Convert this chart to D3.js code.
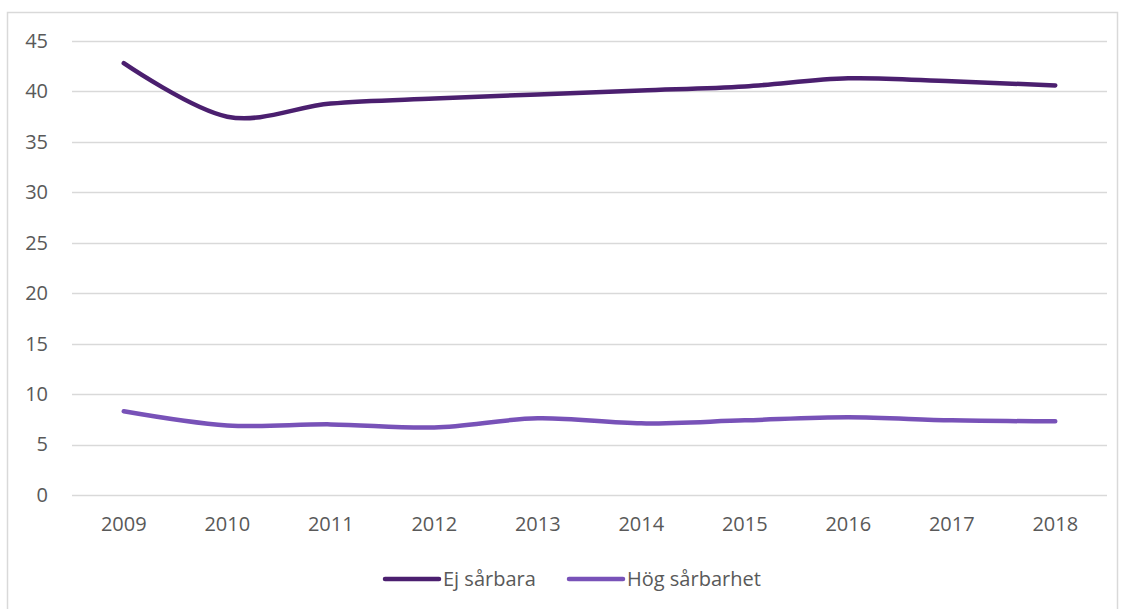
<!DOCTYPE html>
<html>
<head>
<meta charset="utf-8">
<script src="https://cdn.jsdelivr.net/npm/d3@7"></script>
<style>
  body { margin: 0; background: #fff; }
  text { font-family: "Open Sans", "Liberation Sans", sans-serif; fill: #595959; }
</style>
</head>
<body>
<div class="chart"></div>
<script>
var years = ["2009", "2010", "2011", "2012", "2013", "2014", "2015", "2016", "2017", "2018"];
var ejSarbara = [42.8, 37.5, 38.8, 39.3, 39.7, 40.1, 40.5, 41.3, 41.0, 40.6];
var hogSarbarhet = [8.3, 6.9, 7.0, 6.7, 7.6, 7.1, 7.4, 7.7, 7.4, 7.3];
var yTicks = [0, 5, 10, 15, 20, 25, 30, 35, 40, 45];

var seriesNames = ["Ej sårbara", "Hög sårbarhet"];
var seriesColors = ["#4b1f6f", "#7852b8"];

var svgWidth = 1123;
var svgHeight = 609;

var margin = { top: 41, right: 16, bottom: 114, left: 72 };
var width = svgWidth - margin.left - margin.right;
var height = svgHeight - margin.top - margin.bottom;

var svg = d3.select(".chart")
  .append("svg")
  .attr("width", svgWidth)
  .attr("height", svgHeight);

// outer frame
svg.append("rect")
  .attr("x", 7.5)
  .attr("y", 12.5)
  .attr("width", 1110)
  .attr("height", 620)
  .attr("fill", "none")
  .attr("stroke", "#d9d9d9")
  .attr("stroke-width", 1.5);

var chartGroup = svg.append("g")
  .attr("transform", `translate(${margin.left}, ${margin.top})`);

var xScale = d3.scaleBand()
  .domain(years)
  .range([0, width]);

var yScale = d3.scaleLinear()
  .domain([0, 45])
  .range([height, 0]);

// gridlines
chartGroup.append("g")
  .selectAll("line")
  .data(yTicks)
  .enter()
  .append("line")
  .attr("x1", 0)
  .attr("x2", width)
  .attr("y1", d => Math.round(yScale(d)) + 0.5)
  .attr("y2", d => Math.round(yScale(d)) + 0.5)
  .attr("stroke", "#d9d9d9")
  .attr("stroke-width", 1.5);

var leftAxis = d3.axisLeft(yScale).tickValues(yTicks).tickSize(0).tickPadding(24);
var yAxis = chartGroup.append("g").call(leftAxis);
yAxis.select(".domain").remove();
yAxis.selectAll("text").attr("font-size", "20px");

var bottomAxis = d3.axisBottom(xScale).tickSize(0).tickPadding(22);
var xAxis = chartGroup.append("g")
  .attr("transform", `translate(0, ${height})`)
  .call(bottomAxis);
xAxis.select(".domain").remove();
xAxis.selectAll("text").attr("font-size", "20px");

var line = d3.line()
  .x((d, i) => xScale(years[i]) + xScale.bandwidth() / 2)
  .y(d => yScale(d))
  .curve(d3.curveCatmullRom.alpha(0));

[ejSarbara, hogSarbarhet].forEach(function(values, i) {
  chartGroup.append("path")
    .datum(values)
    .attr("d", line)
    .attr("fill", "none")
    .attr("stroke", seriesColors[i])
    .attr("stroke-width", 4.5)
    .attr("stroke-linecap", "round");
});

// legend
var legendX = [385, 569];
var legend = svg.append("g");
seriesNames.forEach(function(name, i) {
  legend.append("line")
    .attr("x1", legendX[i])
    .attr("x2", legendX[i] + 54)
    .attr("y1", 579)
    .attr("y2", 579)
    .attr("stroke", seriesColors[i])
    .attr("stroke-width", 4.5)
    .attr("stroke-linecap", "round");
  legend.append("text")
    .attr("x", legendX[i] + 58)
    .attr("y", 586)
    .attr("font-size", "20px")
    .text(name);
});
</script>
</body>
</html>
